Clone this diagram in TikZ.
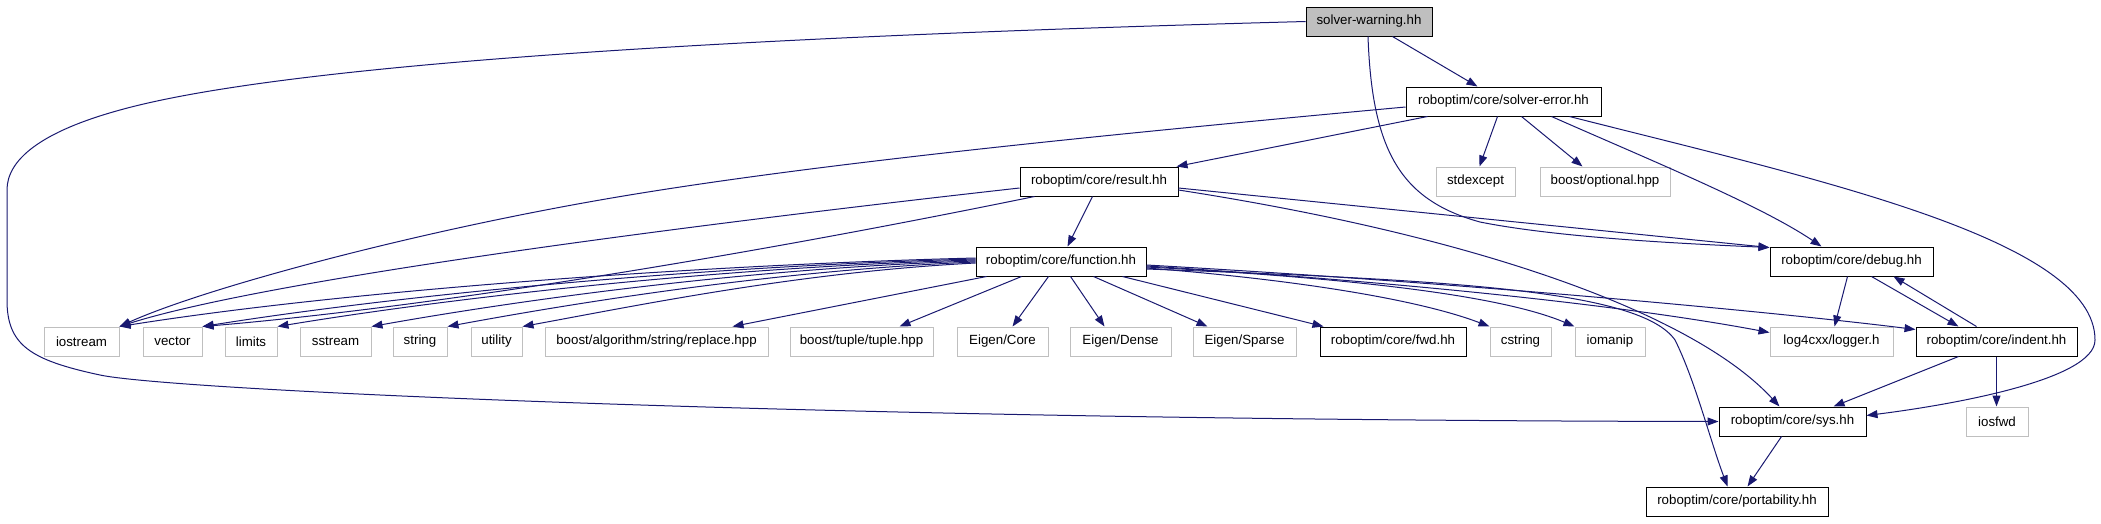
\documentclass[tikz,border=0pt]{standalone}
\usepackage{fontspec}
\setmainfont{Liberation Sans}
\usetikzlibrary{arrows.meta,calc}
\definecolor{grey75}{HTML}{BFBFBF}
\definecolor{midnight}{HTML}{191970}
\tikzset{
  box/.style={draw=black, line width=1pt, fill=white, minimum height=29pt, inner sep=0pt, font=\fontsize{13.3}{16}\selectfont},
  extbox/.style={box, draw=grey75},
  curbox/.style={box, fill=grey75},
  edge/.style={draw=midnight, line width=1pt, -{Triangle[length=11pt,width=8pt]}}
}
\begin{document}
\begin{tikzpicture}[x=1pt,y=-1pt]
\useasboundingbox (0,0) rectangle (2101,523);
% row 0
\node[curbox, minimum width=126pt] (warn) at (1369,21.5) {solver-warning.hh};
% row 1
\node[box, minimum width=195pt] (serr) at (1503.5,101.5) {roboptim/core/solver-error.hh};
% row 2
\node[box, minimum width=158pt] (result) at (1099,181.5) {roboptim/core/result.hh};
\node[extbox, minimum width=79pt] (stdexcept) at (1475.5,181.5) {stdexcept};
\node[extbox, minimum width=130pt] (optional) at (1605,181.5) {boost/optional.hpp};
% row 3
\node[box, minimum width=170pt] (function) at (1061,261.5) {roboptim/core/function.hh};
\node[box, minimum width=163pt] (debug) at (1851.5,261.5) {roboptim/core/debug.hh};
% row 4
\node[extbox, minimum width=75pt] (iostream) at (81.5,341.5) {iostream};
\node[extbox, minimum width=59pt] (vector) at (172.5,341.5) {vector};
\node[extbox, minimum width=52pt] (limits) at (251,341.5) {limits};
\node[extbox, minimum width=71pt] (sstream) at (335.5,341.5) {sstream};
\node[extbox, minimum width=54pt] (string) at (420,341.5) {string};
\node[extbox, minimum width=51pt] (utility) at (496.5,341.5) {utility};
\node[extbox, minimum width=223pt] (replace) at (656.5,341.5) {boost/algorithm/string/replace.hpp};
\node[extbox, minimum width=143pt] (tuple) at (861.5,341.5) {boost/tuple/tuple.hpp};
\node[extbox, minimum width=91pt] (eigcore) at (1002.5,341.5) {Eigen/Core};
\node[extbox, minimum width=101pt] (eigdense) at (1120.5,341.5) {Eigen/Dense};
\node[extbox, minimum width=103pt] (eigsparse) at (1244.5,341.5) {Eigen/Sparse};
\node[box, minimum width=146pt] (fwd) at (1393,341.5) {roboptim/core/fwd.hh};
\node[extbox, minimum width=61pt] (cstring) at (1520.5,341.5) {cstring};
\node[extbox, minimum width=70pt] (iomanip) at (1610,341.5) {iomanip};
\node[extbox, minimum width=123pt] (log4cxx) at (1831.5,341.5) {log4cxx/logger.h};
\node[box, minimum width=161pt] (indent) at (1996.5,341.5) {roboptim/core/indent.hh};
% row 5
\node[box, minimum width=147pt] (sys) at (1792.5,421.5) {roboptim/core/sys.hh};
\node[extbox, minimum width=62pt] (iosfwd) at (1997,421.5) {iosfwd};
% row 6
\node[box, minimum width=182pt] (portability) at (1737,501.5) {roboptim/core/portability.hh};

% edges from solver-warning
\draw[edge] ($(warn.south west)+(87,0)$) -- ($(serr.north west)+(72,0)$);
\draw[edge] (warn.west) .. controls (800,35) and (300,60) .. (120,110)
  .. controls (40,132) and (7,160) .. (7,190) -- (7,300)
  .. controls (7,345) and (30,360) .. (100,375)
  .. controls (170,390) and (800,420) .. (sys.west);
\draw[edge] ($(warn.south)+(-1,0)$) .. controls (1372,150) and (1400,200) .. (1480,222)
  .. controls (1560,238) and (1690,244) .. ($(debug.north west)+(0,1)$);

% edges from solver-error
\draw[edge] ($(serr.west)+(0,5.5)$) .. controls (1100,135) and (800,165) .. (600,200)
  .. controls (400,235) and (200,290) .. (iostream.north east);
\draw[edge] ($(serr.south west)+(22,0)$) -- ($(result.north east)+(-2,0)$);
\draw[edge] ($(serr.south west)+(92,0)$) -- ($(stdexcept.north west)+(44,0)$);
\draw[edge] ($(serr.south west)+(116,0)$) -- ($(optional.north west)+(43,0)$);
\draw[edge] ($(serr.south west)+(146,0)$) .. controls (1650,160) and (1760,205) .. ($(debug.north west)+(52,0)$);
\draw[edge] ($(serr.south west)+(164,0)$) .. controls (1820,180) and (2095,240) .. (2095,340)
  .. controls (2095,380) and (1950,405) .. ($(sys.east)+(0,-6)$);

% edges from result
\draw[edge] ($(result.west)+(0,6.5)$) .. controls (600,235) and (250,285) .. (iostream.north east);
\draw[edge] ($(result.south west)+(15,0)$) .. controls (700,265) and (400,310) .. (vector.north east);
\draw[edge] ($(result.south west)+(73,0)$) -- ($(function.north west)+(92,0)$);
\draw[edge] ($(result.east)+(0,6.5)$) -- ($(debug.north west)+(0,1)$);
\draw[edge] ($(result.east)+(0,8.5)$) .. controls (1500,240) and (1700,320) .. ($(sys.north west)+(61,0)$);

% edges from function (left fan)
\draw[edge] ($(function.west)+(0,-3.5)$) .. controls (700,265) and (350,290) .. (iostream.north east);
\draw[edge] ($(function.west)+(0,-2.5)$) .. controls (700,266) and (400,295) .. (vector.north east);
\draw[edge] ($(function.west)+(0,-1.5)$) .. controls (720,267) and (450,298) .. (limits.north east);
\draw[edge] ($(function.west)+(0,-0.5)$) .. controls (750,268) and (520,300) .. (sstream.north east);
\draw[edge] ($(function.west)+(0,0.5)$) .. controls (780,270) and (580,302) .. (string.north east);
\draw[edge] ($(function.west)+(0,1.5)$) .. controls (800,272) and (640,305) .. (utility.north east);
% function bottom
\draw[edge] ($(function.south west)+(11,0)$) -- ($(replace.north west)+(188,0)$);
\draw[edge] ($(function.south west)+(46,0)$) -- ($(tuple.north west)+(110,0)$);
\draw[edge] ($(function.south west)+(73,0)$) -- ($(eigcore.north west)+(56,0)$);
\draw[edge] ($(function.south west)+(95,0)$) -- ($(eigdense.north west)+(35,0)$);
\draw[edge] ($(function.south west)+(118,0)$) -- ($(eigsparse.north west)+(15,0)$);
\draw[edge] ($(function.south west)+(147,0)$) -- ($(fwd.north west)+(4,0)$);
% function right fan
\draw[edge] ($(function.east)+(0,6.5)$) .. controls (1300,280) and (1420,300) .. (cstring.north west);
\draw[edge] ($(function.east)+(0,5.5)$) .. controls (1350,278) and (1500,295) .. (iomanip.north west);
\draw[edge] ($(function.east)+(0,4.5)$) .. controls (1450,285) and (1650,310) .. ($(log4cxx.west)+(0,-9)$);
\draw[edge] ($(function.east)+(0,3.5)$) .. controls (1500,285) and (1800,315) .. ($(indent.west)+(0,-12)$);
\draw[edge] ($(function.east)+(0,7.5)$) .. controls (1450,280) and (1640,290) .. (1675,340)
  .. controls (1695,380) and (1710,440) .. ($(portability.north west)+(82,0)$);

% debug, indent, sys
\draw[edge] ($(debug.south west)+(78,0)$) -- ($(log4cxx.north west)+(65,0)$);
\draw[edge] ($(debug.south west)+(102,0)$) -- ($(indent.north west)+(43,0)$);
\draw[edge] ($(indent.north west)+(61,0)$) -- ($(debug.south west)+(124,0)$);
\draw[edge] ($(indent.south west)+(43,0)$) -- ($(sys.north west)+(115,0)$);
\draw[edge] ($(indent.south west)+(81,0)$) -- ($(iosfwd.north west)+(31,0)$);
\draw[edge] ($(sys.south west)+(63,0)$) -- ($(portability.north west)+(102,0)$);
\end{tikzpicture}
\end{document}
